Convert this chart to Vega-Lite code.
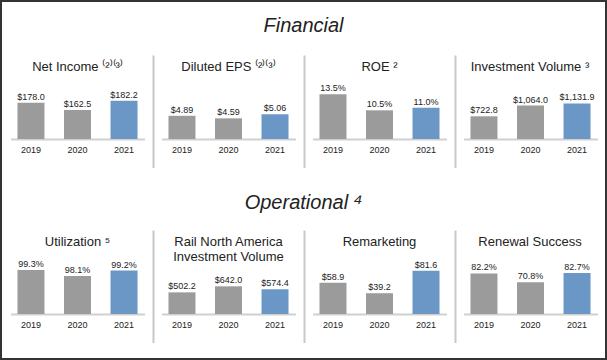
{
  "$schema": "https://vega.github.io/schema/vega-lite/v6.json",
  "background": "#333333",
  "padding": 2,
  "spacing": 0,
  "datasets": {
    "netIncome": [{"year": "2019", "value": 178.0, "label": "$178.0"}, {"year": "2020", "value": 162.5, "label": "$162.5"}, {"year": "2021", "value": 182.2, "label": "$182.2"}],
    "eps": [{"year": "2019", "value": 4.89, "label": "$4.89"}, {"year": "2020", "value": 4.59, "label": "$4.59"}, {"year": "2021", "value": 5.06, "label": "$5.06"}],
    "roe": [{"year": "2019", "value": 13.5, "label": "13.5%"}, {"year": "2020", "value": 10.5, "label": "10.5%"}, {"year": "2021", "value": 11.0, "label": "11.0%"}],
    "invVol": [{"year": "2019", "value": 722.8, "label": "$722.8"}, {"year": "2020", "value": 1064.0, "label": "$1,064.0"}, {"year": "2021", "value": 1131.9, "label": "$1,131.9"}],
    "util": [{"year": "2019", "value": 99.3, "label": "99.3%"}, {"year": "2020", "value": 98.1, "label": "98.1%"}, {"year": "2021", "value": 99.2, "label": "99.2%"}],
    "railNA": [{"year": "2019", "value": 502.2, "label": "$502.2"}, {"year": "2020", "value": 642.0, "label": "$642.0"}, {"year": "2021", "value": 574.4, "label": "$574.4"}],
    "remarketing": [{"year": "2019", "value": 58.9, "label": "$58.9"}, {"year": "2020", "value": 39.2, "label": "$39.2"}, {"year": "2021", "value": 81.6, "label": "$81.6"}],
    "renewal": [{"year": "2019", "value": 82.2, "label": "82.2%"}, {"year": "2020", "value": 70.8, "label": "70.8%"}, {"year": "2021", "value": 82.7, "label": "82.7%"}],
    "h1": [{"t": "Financial"}],
    "h2": [{"t": "Operational ⁴"}]
  },
  "vconcat": [
    {
      "width": 603, "height": 53,
      "data": {"name": "h1"},
      "layer": [
        {"mark": {"type": "rect", "color": "white"}},
        {"mark": {"type": "text", "fontSize": 20, "fontStyle": "italic", "baseline": "alphabetic", "dy": 3, "color": "#222222"}, "encoding": {"text": {"field": "t"}}}
      ]
    },
    {
      "hconcat": [
        {
          "width": 151, "height": 113,
          "title": "Net Income ⁽²⁾⁽³⁾",
          "data": {"name": "netIncome"},
          "encoding": {
            "x": {"field": "year", "type": "nominal", "scale": {"range": [8.5, 142.5], "paddingInner": 0.42, "paddingOuter": 0.15}},
            "y": {"field": "value", "type": "quantitative", "scale": {"domain": [39.6, 279], "nice": false, "zero": false}, "axis": null}
          },
          "layer": [
            {"mark": "bar", "encoding": {"y2": {"datum": 101}, "color": {"field": "year", "type": "nominal", "scale": {"domain": ["2019", "2020", "2021"], "range": ["#9b9b9b", "#9b9b9b", "#6a97c5"]}, "legend": null}}},
            {"mark": {"type": "text", "baseline": "alphabetic", "dy": -3}, "encoding": {"text": {"field": "label"}}}
          ]
        },
        {
          "width": 151, "height": 113,
          "title": "Diluted EPS ⁽²⁾⁽³⁾",
          "data": {"name": "eps"},
          "encoding": {
            "x": {"field": "year", "type": "nominal", "scale": {"range": [8.5, 142.5], "paddingInner": 0.42, "paddingOuter": 0.15}},
            "y": {"field": "value", "type": "quantitative", "scale": {"domain": [-1.25, 12.04], "nice": false, "zero": false}, "axis": {"orient": "left", "domain": true, "labels": false, "ticks": false, "grid": false, "title": null}}
          },
          "layer": [
            {"mark": "bar", "encoding": {"y2": {"datum": 2.16}, "color": {"field": "year", "type": "nominal", "scale": {"domain": ["2019", "2020", "2021"], "range": ["#9b9b9b", "#9b9b9b", "#6a97c5"]}, "legend": null}}},
            {"mark": {"type": "text", "baseline": "alphabetic", "dy": -3}, "encoding": {"text": {"field": "label"}}}
          ]
        },
        {
          "width": 151, "height": 113,
          "title": "ROE ²",
          "data": {"name": "roe"},
          "encoding": {
            "x": {"field": "year", "type": "nominal", "scale": {"range": [8.5, 142.5], "paddingInner": 0.42, "paddingOuter": 0.15}},
            "y": {"field": "value", "type": "quantitative", "scale": {"domain": [-0.32, 20.88], "nice": false, "zero": false}, "axis": {"orient": "left", "domain": true, "labels": false, "ticks": false, "grid": false, "title": null}}
          },
          "layer": [
            {"mark": "bar", "encoding": {"y2": {"datum": 5.12}, "color": {"field": "year", "type": "nominal", "scale": {"domain": ["2019", "2020", "2021"], "range": ["#9b9b9b", "#9b9b9b", "#6a97c5"]}, "legend": null}}},
            {"mark": {"type": "text", "baseline": "alphabetic", "dy": -3}, "encoding": {"text": {"field": "label"}}}
          ]
        },
        {
          "width": 150, "height": 113,
          "title": "Investment Volume ³",
          "data": {"name": "invVol"},
          "encoding": {
            "x": {"field": "year", "type": "nominal", "scale": {"range": [8.5, 142.5], "paddingInner": 0.42, "paddingOuter": 0.15}},
            "y": {"field": "value", "type": "quantitative", "scale": {"domain": [-923.6, 2675], "nice": false, "zero": false}, "axis": {"orient": "left", "domain": true, "labels": false, "ticks": false, "grid": false, "title": null}}
          },
          "layer": [
            {"mark": "bar", "encoding": {"y2": {"datum": 0}, "color": {"field": "year", "type": "nominal", "scale": {"domain": ["2019", "2020", "2021"], "range": ["#9b9b9b", "#9b9b9b", "#6a97c5"]}, "legend": null}}},
            {"mark": {"type": "text", "baseline": "alphabetic", "dy": -3}, "encoding": {"text": {"field": "label"}}}
          ]
        }
      ],
      "spacing": 0,
      "bounds": "flush",
      "resolve": {"scale": {"x": "independent", "y": "independent"}}
    },
    {
      "width": 603, "height": 62,
      "data": {"name": "h2"},
      "layer": [
        {"mark": {"type": "rect", "color": "white"}},
        {"mark": {"type": "text", "fontSize": 20, "fontStyle": "italic", "baseline": "alphabetic", "dy": 10, "color": "#222222"}, "encoding": {"text": {"field": "t"}}}
      ]
    },
    {
      "hconcat": [
        {
          "width": 151, "height": 113,
          "title": "Utilization ⁵",
          "data": {"name": "util"},
          "encoding": {
            "x": {"field": "year", "type": "nominal", "scale": {"range": [8.5, 142.5], "paddingInner": 0.42, "paddingOuter": 0.15}},
            "y": {"field": "value", "type": "quantitative", "scale": {"domain": [84.7, 107.3], "nice": false, "zero": false}, "axis": null}
          },
          "layer": [
            {"mark": "bar", "encoding": {"y2": {"datum": 90.5}, "color": {"field": "year", "type": "nominal", "scale": {"domain": ["2019", "2020", "2021"], "range": ["#9b9b9b", "#9b9b9b", "#6a97c5"]}, "legend": null}}},
            {"mark": {"type": "text", "baseline": "alphabetic", "dy": -3}, "encoding": {"text": {"field": "label"}}}
          ]
        },
        {
          "width": 151, "height": 113,
          "title": {"text": ["Rail North America", "Investment Volume"], "offset": -33.5},
          "data": {"name": "railNA"},
          "encoding": {
            "x": {"field": "year", "type": "nominal", "scale": {"range": [8.5, 142.5], "paddingInner": 0.42, "paddingOuter": 0.15}},
            "y": {"field": "value", "type": "quantitative", "scale": {"domain": [-672.9, 1949], "nice": false, "zero": false}, "axis": {"orient": "left", "domain": true, "labels": false, "ticks": false, "grid": false, "title": null}}
          },
          "layer": [
            {"mark": "bar", "encoding": {"y2": {"datum": 0}, "color": {"field": "year", "type": "nominal", "scale": {"domain": ["2019", "2020", "2021"], "range": ["#9b9b9b", "#9b9b9b", "#6a97c5"]}, "legend": null}}},
            {"mark": {"type": "text", "baseline": "alphabetic", "dy": -3}, "encoding": {"text": {"field": "label"}}}
          ]
        },
        {
          "width": 151, "height": 113,
          "title": "Remarketing",
          "data": {"name": "remarketing"},
          "encoding": {
            "x": {"field": "year", "type": "nominal", "scale": {"range": [8.5, 142.5], "paddingInner": 0.42, "paddingOuter": 0.15}},
            "y": {"field": "value", "type": "quantitative", "scale": {"domain": [-54.7, 158.5], "nice": false, "zero": false}, "axis": {"orient": "left", "domain": true, "labels": false, "ticks": false, "grid": false, "title": null}}
          },
          "layer": [
            {"mark": "bar", "encoding": {"y2": {"datum": 0}, "color": {"field": "year", "type": "nominal", "scale": {"domain": ["2019", "2020", "2021"], "range": ["#9b9b9b", "#9b9b9b", "#6a97c5"]}, "legend": null}}},
            {"mark": {"type": "text", "baseline": "alphabetic", "dy": -3}, "encoding": {"text": {"field": "label"}}}
          ]
        },
        {
          "width": 150, "height": 113,
          "title": "Renewal Success",
          "data": {"name": "renewal"},
          "encoding": {
            "x": {"field": "year", "type": "nominal", "scale": {"range": [8.5, 142.5], "paddingInner": 0.42, "paddingOuter": 0.15}},
            "y": {"field": "value", "type": "quantitative", "scale": {"domain": [-7, 137.9], "nice": false, "zero": false}, "axis": {"orient": "left", "domain": true, "labels": false, "ticks": false, "grid": false, "title": null}}
          },
          "layer": [
            {"mark": "bar", "encoding": {"y2": {"datum": 30.2}, "color": {"field": "year", "type": "nominal", "scale": {"domain": ["2019", "2020", "2021"], "range": ["#9b9b9b", "#9b9b9b", "#6a97c5"]}, "legend": null}}},
            {"mark": {"type": "text", "baseline": "alphabetic", "dy": -3}, "encoding": {"text": {"field": "label"}}}
          ]
        }
      ],
      "spacing": 0,
      "bounds": "flush",
      "resolve": {"scale": {"x": "independent", "y": "independent"}}
    },
    {
      "width": 603, "height": 15,
      "data": {"values": [{"t": ""}]},
      "mark": {"type": "rect", "color": "white"}
    }
  ],
  "config": {
    "font": "Liberation Sans",
    "view": {"fill": "white", "stroke": null},
    "title": {"fontSize": 13, "fontWeight": "normal", "color": "#222222", "offset": -18.5, "anchor": "middle", "baseline": "alphabetic", "frame": "group", "lineHeight": 15},
    "text": {"fontSize": 9, "color": "#222222"},
    "axisX": {"orient": "bottom", "offset": -29, "domain": true, "domainColor": "#d0d0d0", "domainWidth": 2, "ticks": false, "tickSize": 0, "grid": false, "title": null, "labelAngle": 0, "labelFontSize": 9, "labelColor": "#222222", "labelPadding": 13.5, "labelBaseline": "alphabetic"},
    "axisY": {"domainColor": "#c8c8c8", "domainWidth": 2}
  }
}
